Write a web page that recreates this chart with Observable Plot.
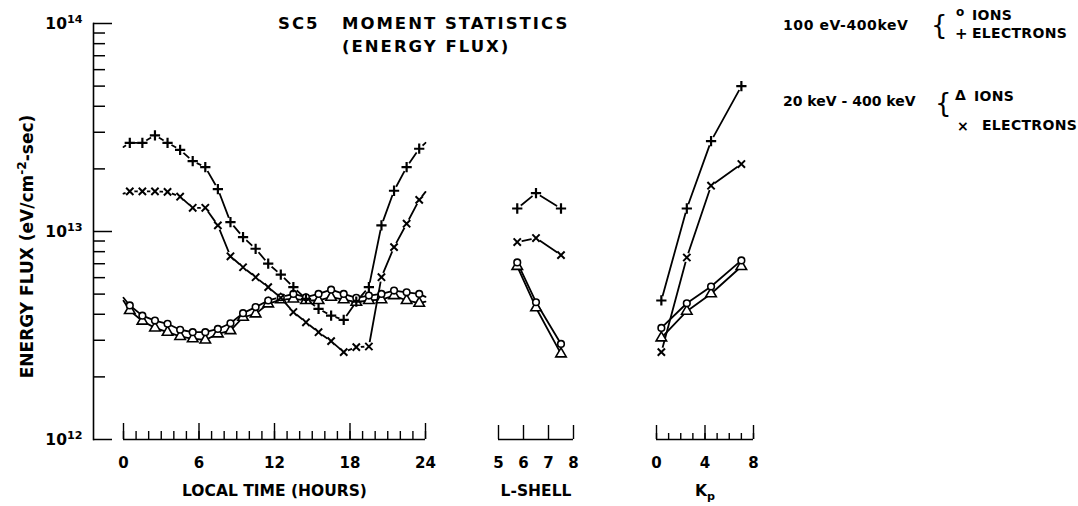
<!DOCTYPE html>
<html>
<head>
<meta charset="utf-8">
<script src="https://cdn.jsdelivr.net/npm/d3@7"></script>
<script src="https://cdn.jsdelivr.net/npm/@observablehq/plot@0.6"></script>
<style>
  html, body { margin: 0; padding: 0; background: #fff; }
  #chart { position: relative; width: 1078px; height: 506px; overflow: hidden;
           font-family: "DejaVu Sans", sans-serif; font-weight: bold; color: #000; }
  #chart svg { position: absolute; left: 0; top: 0; }
  .lbl { position: absolute; white-space: pre; }
</style>
</head>
<body>
<div id="chart"></div>
<script>
// ---------------- data ----------------
// Local time bins (hours, bin centres)
const localTime = [0.5, 1.5, 2.5, 3.5, 4.5, 5.5, 6.5, 7.5, 8.5, 9.5, 10.5, 11.5,
                   12.5, 13.5, 14.5, 15.5, 16.5, 17.5, 18.5, 19.5, 20.5, 21.5, 22.5, 23.5];
// energy flux, eV/cm^2-sec
const ltElectrons100 = [2.67e13, 2.67e13, 2.90e13, 2.67e13, 2.47e13, 2.18e13, 2.04e13, 1.60e13,
                        1.11e13, 9.4e12, 8.26e12, 7.0e12, 6.2e12, 5.4e12, 4.74e12, 4.25e12,
                        3.94e12, 3.76e12, 4.6e12, 5.4e12, 1.07e13, 1.57e13, 2.04e13, 2.50e13];
const ltElectrons20 = [1.56e13, 1.56e13, 1.56e13, 1.55e13, 1.47e13, 1.30e13, 1.30e13, 1.07e13,
                       7.6e12, 6.73e12, 6.03e12, 5.40e12, 4.8e12, 4.1e12, 3.66e12, 3.28e12,
                       2.97e12, 2.63e12, 2.78e12, 2.80e12, 6.03e12, 8.41e12, 1.09e13, 1.42e13];
const ltIons100 = [4.41e12, 3.94e12, 3.73e12, 3.60e12, 3.37e12, 3.28e12, 3.28e12, 3.40e12,
                   3.62e12, 4.05e12, 4.33e12, 4.66e12, 4.83e12, 5.01e12, 4.83e12, 5.01e12,
                   5.25e12, 5.01e12, 4.80e12, 4.92e12, 5.01e12, 5.20e12, 5.10e12, 5.01e12];
const ltIons20 = [4.17e12, 3.71e12, 3.44e12, 3.28e12, 3.13e12, 3.05e12, 3.01e12, 3.22e12,
                  3.34e12, 3.87e12, 4.02e12, 4.49e12, 4.70e12, 4.74e12, 4.66e12, 4.66e12,
                  4.83e12, 4.70e12, 4.57e12, 4.66e12, 4.70e12, 4.92e12, 4.66e12, 4.52e12];
// curves continue to the 0 h and 24 h edges (no symbol there)
const ltEdges = [0, 24];
const ltElectrons100Edges = [2.55e13, 2.67e13];
const ltElectrons20Edges = [1.52e13, 1.55e13];
const ltIons100Edges = [4.8e12, 4.85e12];
const ltIons20Edges = [4.65e12, 4.6e12];

// L-shell bins
const lShell = [5.75, 6.5, 7.5];
const lsElectrons100 = [1.29e13, 1.53e13, 1.29e13];
const lsElectrons20 = [8.9e12, 9.3e12, 7.7e12];
const lsIons100 = [7.1e12, 4.57e12, 2.88e12];
const lsIons20 = [6.8e12, 4.3e12, 2.58e12];

// Kp bins
const kp = [0.4, 2.5, 4.5, 7];
const kpElectrons100 = [4.66e12, 1.29e13, 2.72e13, 5.0e13];
const kpElectrons20 = [2.63e12, 7.5e12, 1.66e13, 2.11e13];
const kpIons100 = [3.44e12, 4.52e12, 5.44e12, 7.26e12];
const kpIons20 = [3.08e12, 4.14e12, 5.02e12, 6.79e12];

// axis ticks and labels
const yDecades = [1e12, 1e13, 1e14];
const yMinor = [2e12, 3e12, 4e12, 5e12, 6e12, 7e12, 8e12, 9e12,
                2e13, 3e13, 4e13, 5e13, 6e13, 7e13, 8e13, 9e13];
const ltTicks = [0, 1, 2, 3, 4, 5, 6, 7, 8, 9, 10, 11, 12, 13, 14, 15, 16, 17, 18, 19, 20, 21, 22, 23, 24];
const ltMajor = [0, 6, 12, 18, 24];
const lsTicks = [5, 6, 7, 8];
const kpTicks = [0, 1, 2, 3, 4, 5, 6, 7, 8];
const kpMajor = [0, 4, 8];

const yTitle = "ENERGY FLUX (eV/cm^{-2}-sec)";
const titleLines = ["SC5", "MOMENT STATISTICS", "(ENERGY FLUX)"];
const legendRanges = ["100 eV-400keV", "20 keV - 400 keV"];

// ---------------- drawing ----------------
const W = 1078, H = 506;
const yScale = {type: "log", domain: [1e12, 1e14]};
const svgStyle = {background: "transparent", fontFamily: "DejaVu Sans, sans-serif",
                  fontWeight: "bold", fontSize: "14.5px", color: "black", overflow: "visible"};

const symbolStyles = {
  ions100: {symbol: "circle", r: 3.3, fill: "white", stroke: "black", strokeWidth: 1.6},
  ions20: {symbol: "triangle", r: 3.9, fill: "white", stroke: "black", strokeWidth: 1.6},
  electrons100: {symbol: "plus", r: 3.4, stroke: "black", strokeWidth: 2.2},
  electrons20: {symbol: "times", r: 3.4, stroke: "black", strokeWidth: 2}
};

const rows = (xs, ys) => xs.map((x, i) => ({x, y: ys[i]}));
const intFormat = d3.format("d");

function seriesSet(xs, sets) {
  return sets.map(([kind, values, edges, edgeXs]) => {
    const points = rows(xs, values);
    const line = edges ? [{x: edgeXs[0], y: edges[0]}, ...points, {x: edgeXs[1], y: edges[1]}] : points;
    return {kind, points, line};
  });
}

function panel({x, marginLeft, marginRight, series, minorTicks, majorTicks, minorSize, majorSize,
                labelTicks, title, withYAxis}) {
  const marks = [];
  if (withYAxis) {
    marks.push(Plot.frame({anchor: "left", stroke: "black", strokeWidth: 1.6}));
    marks.push(Plot.axisY({anchor: "left", ticks: yMinor, tickSize: -12, tickFormat: () => "", label: null, strokeWidth: 1.5}));
    marks.push(Plot.axisY({anchor: "left", ticks: yDecades, tickSize: -19, tickFormat: () => "", label: null, strokeWidth: 1.5}));
    marks.push(Plot.axisY({anchor: "left", ticks: yDecades, tickSize: 0, tickPadding: 11, label: null,
                           fontSize: 15.5, dy: 1, tickFormat: (d) => `10^{${Math.round(Math.log10(d))}}`}));
    marks.push(Plot.text([yTitle], {frameAnchor: "left", textAnchor: "middle", rotate: -90, dx: -66, dy: 15,
                                    fontSize: 17, letterSpacing: 1.3}));
  }
  // baseline of the horizontal axis
  marks.push(Plot.ruleY([1e12], {x1: x.domain[0], x2: x.domain[1], strokeWidth: 1.5}));
  if (minorTicks) marks.push(Plot.axisX({anchor: "bottom", ticks: minorTicks, tickSize: -minorSize, tickFormat: () => "", label: null, strokeWidth: 1.4}));
  marks.push(Plot.axisX({anchor: "bottom", ticks: majorTicks, tickSize: -majorSize, tickFormat: () => "", label: null, strokeWidth: 1.4}));
  marks.push(Plot.axisX({anchor: "bottom", ticks: labelTicks, tickSize: 0, tickPadding: 18, label: null,
                         fontSize: 15, tickFormat: intFormat}));
  marks.push(Plot.text([title], {frameAnchor: "bottom", dy: 56, fontSize: 15.5, letterSpacing: 1}));

  for (const s of series) marks.push(Plot.line(s.line, {x: "x", y: "y", stroke: "black", strokeWidth: 1.8}));
  for (const s of series) {
    if (s.kind.startsWith("electrons")) marks.push(Plot.dot(s.points, {x: "x", y: "y", r: 4.6, fill: "white"}));
  }
  for (const kind of ["ions20", "ions100", "electrons100", "electrons20"]) {
    for (const s of series.filter((d) => d.kind === kind)) {
      marks.push(Plot.dot(s.points, {x: "x", y: "y", ...symbolStyles[kind]}));
    }
  }
  return Plot.plot({
    width: W, height: H, marginTop: 23, marginBottom: 67, marginLeft, marginRight,
    x, y: withYAxis ? yScale : {...yScale, axis: null},
    style: svgStyle, marks
  });
}

// turn ^{..} and _{..} into raised / lowered tspans
function richText(svg) {
  const ns = "http://www.w3.org/2000/svg";
  svg.querySelectorAll("text").forEach((t) => {
    const s = t.textContent;
    if (!/[\^_]\{/.test(s)) return;
    const fs = parseFloat(getComputedStyle(t).fontSize) || 14;
    t.textContent = "";
    let cur = 0;
    for (const part of s.split(/([\^_]\{[^}]*\})/)) {
      if (!part) continue;
      const m = part.match(/^([\^_])\{([^}]*)\}$/);
      const target = m ? (m[1] === "^" ? -0.42 * fs : 0.3 * fs) : 0;
      const span = document.createElementNS(ns, "tspan");
      span.setAttribute("dy", target - cur);
      cur = target;
      if (m) span.setAttribute("font-size", (0.72 * fs).toFixed(1));
      span.textContent = m ? m[2] : part;
      t.appendChild(span);
    }
  });
}

const chart = document.getElementById("chart");

const panels = [
  panel({
    x: {domain: [0, 24], range: [123, 425]}, marginLeft: 93, marginRight: 623, withYAxis: true,
    series: seriesSet(localTime, [
      ["electrons100", ltElectrons100, ltElectrons100Edges, ltEdges],
      ["electrons20", ltElectrons20, ltElectrons20Edges, ltEdges],
      ["ions100", ltIons100, ltIons100Edges, ltEdges],
      ["ions20", ltIons20, ltIons20Edges, ltEdges]
    ]),
    minorTicks: ltTicks, majorTicks: ltMajor, minorSize: 8, majorSize: 16, labelTicks: ltMajor,
    title: "LOCAL TIME (HOURS)"
  }),
  panel({
    x: {domain: [5, 8]}, marginLeft: 498, marginRight: 505,
    series: seriesSet(lShell, [
      ["electrons100", lsElectrons100], ["electrons20", lsElectrons20],
      ["ions100", lsIons100], ["ions20", lsIons20]
    ]),
    majorTicks: lsTicks, majorSize: 14, labelTicks: lsTicks, title: "L-SHELL"
  }),
  panel({
    x: {domain: [0, 8]}, marginLeft: 656, marginRight: 325,
    series: seriesSet(kp, [
      ["electrons100", kpElectrons100], ["electrons20", kpElectrons20],
      ["ions100", kpIons100], ["ions20", kpIons20]
    ]),
    minorTicks: kpTicks, majorTicks: kpMajor, minorSize: 6, majorSize: 14, labelTicks: kpMajor,
    title: "K_{p}"
  })
];
for (const svg of panels) { chart.appendChild(svg); richText(svg); }

// title and legend
function label(text, left, cy, size, spacing = 0, weight = "bold") {
  const d = document.createElement("div");
  d.className = "lbl";
  d.textContent = text;
  d.style.left = left + "px";
  d.style.top = (cy - size * 0.6) + "px";
  d.style.height = (size * 1.2) + "px";
  d.style.lineHeight = (size * 1.2) + "px";
  d.style.fontSize = size + "px";
  d.style.letterSpacing = spacing + "px";
  d.style.fontWeight = weight;
  chart.appendChild(d);
}
label(titleLines[0], 278, 23.5, 16.5, 2);
label(titleLines[1], 342, 23.5, 16.5, 2);
label(titleLines[2], 342, 46.5, 16.5, 2);

label(legendRanges[0], 783, 25.3, 14, 0.6);
label("{", 931, 26, 26, 0, "normal");
label("o", 956, 12, 12);
label("IONS", 972, 15, 14, 0.3);
label("+", 955, 34, 15);
label("ELECTRONS", 972, 33.5, 14, 0.3);

label(legendRanges[1], 783, 101, 14, 0);
label("{", 935, 104, 26, 0, "normal");
label("\u0394", 955, 95, 14);
label("IONS", 974, 96, 14, 0.3);
label("\u00d7", 957, 126.5, 14);
label("ELECTRONS", 982, 125, 14, 0.3);
</script>
</body>
</html>
